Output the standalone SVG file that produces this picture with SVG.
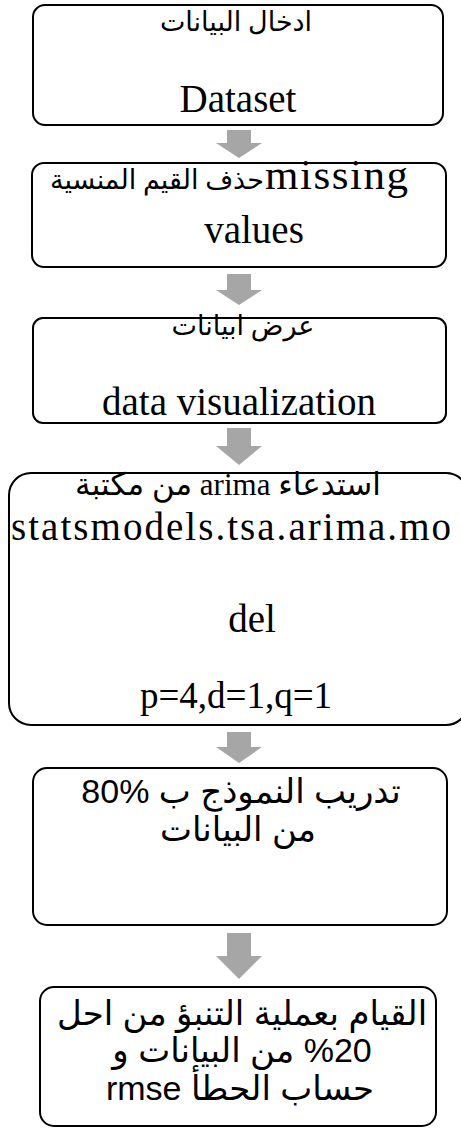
<svg xmlns="http://www.w3.org/2000/svg" width="461" height="1129" viewBox="0 0 461 1129">
<style>
.box{fill:#fff;stroke:#000;stroke-width:2}
.arr{fill:#a6a6a6;stroke:none}
.ser{font-family:"Liberation Serif","DejaVu Sans",serif;fill:#000;text-anchor:middle}
.san{font-family:"Liberation Sans","DejaVu Sans",sans-serif;fill:#000;text-anchor:middle;font-size:34px}
.ar{font-size:27px}
.lat{font-size:39px}
</style>
<rect width="461" height="1129" fill="#fff"/>
<g id="connectors">
<polygon class="arr" points="227,130 251,130 251,143 262,143 239,158 216,143 227,143"/>
<polygon class="arr" points="227,274 251,274 251,290 262,290 239,305 216,290 227,290"/>
<polygon class="arr" points="227,428 251,428 251,446 262,446 239,465 216,446 227,446"/>
<polygon class="arr" points="227,732 251,732 251,747 262,747 239,763 216,747 227,747"/>
<polygon class="arr" points="227,933 251,933 251,956 262,956 239,979 216,956 227,956"/>
</g>
<g id="n1">
<rect class="box" x="33" y="5" width="410" height="120" rx="12"/>
<text class="ser ar" x="236" y="31" direction="rtl">ادخال البيانات</text>
<text class="ser lat" x="238" y="112">Dataset</text>
</g>
<g id="n2">
<rect class="box" x="32" y="163" width="414" height="104" rx="12"/>
<text class="ser ar" x="264" y="189" style="text-anchor:end">حذف القيم المنسية</text>
<text class="ser" x="265" y="189" font-size="43" style="text-anchor:start" textLength="143" lengthAdjust="spacing">missing</text>
<text class="ser lat" x="254" y="243">values</text>
</g>
<g id="n3">
<rect class="box" x="33" y="318" width="413" height="105" rx="10"/>
<text class="ser ar" x="243" y="335" direction="rtl">عرض ابيانات</text>
<text class="ser lat" x="239" y="415">data visualization</text>
</g>
<g id="n4">
<rect class="box" x="9" y="473" width="459" height="252" rx="22"/>
<text class="ser" x="228" y="495" font-size="31" direction="rtl" style="unicode-bidi:embed">استدعاء  arima من مكتبة</text>
<text class="ser lat" x="231" y="540" textLength="440" lengthAdjust="spacing">statsmodels.tsa.arima.mo</text>
<text class="ser lat" x="252" y="632">del</text>
<text class="ser" x="236" y="708" font-size="37">p=4,d=1,q=1</text>
</g>
<g id="n5">
<rect class="box" x="33" y="768" width="414" height="157" rx="14"/>
<text class="san" x="241" y="803" font-size="35" direction="rtl" style="unicode-bidi:embed">تدريب النموذج ب  %80</text>
<text class="san" x="238" y="841" direction="rtl">من البيانات</text>
</g>
<g id="n6">
<rect class="box" x="40" y="987" width="396" height="139" rx="14"/>
<text class="san" x="242" y="1025" direction="rtl">القيام بعملية التنبؤ من احل</text>
<text class="san" x="242" y="1062" font-size="36" direction="rtl" style="unicode-bidi:embed">%20 من البيانات و</text>
<text class="san" x="240" y="1100" direction="rtl" style="unicode-bidi:embed">حساب الحطأ  rmse</text>
</g>
</svg>
